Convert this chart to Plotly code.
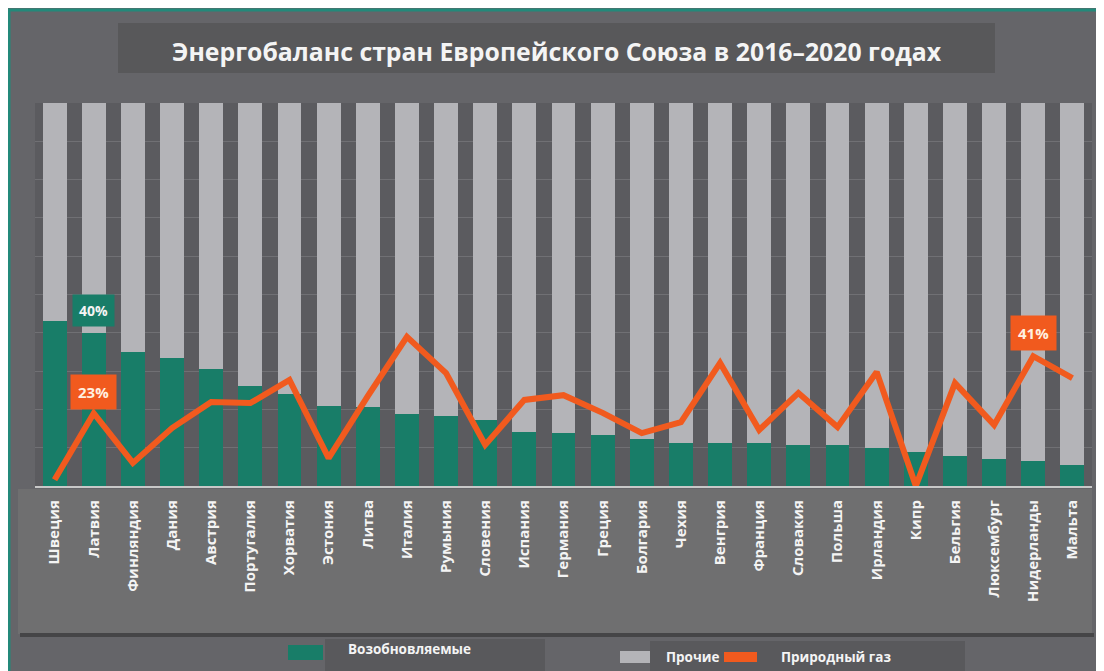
import plotly.graph_objects as go

countries = ["Швеция", "Латвия", "Финляндия", "Дания", "Австрия", "Португалия", "Хорватия",
             "Эстония", "Литва", "Италия", "Румыния", "Словения", "Испания", "Германия",
             "Греция", "Болгария", "Чехия", "Венгрия", "Франция", "Словакия", "Польша",
             "Ирландия", "Кипр", "Бельгия", "Люксембург", "Нидерланды", "Мальта"]
renewables = [43, 40, 35, 33.5, 30.5, 26, 24, 21, 20.5, 18.7, 18.3, 17.2, 14.2, 13.9,
              13.2, 12.4, 11.1, 11.1, 11.1, 10.7, 10.7, 10, 9, 7.9, 7.1, 6.4, 5.5]
others = [round(100 - v, 1) for v in renewables]
gas = [2, 23, 7.3, 18.3, 26.5, 26.2, 33.5, 8.8, 28.4, 47.1, 35.7, 13, 27.2, 28.7,
       23.1, 16.7, 20.2, 38.9, 17.7, 29.4, 18.6, 36, 0, 32.5, 19.3, 41, 34.1]
title = "Энергобаланс стран Европейского Союза в 2016–2020 годах"
series_names = ["Возобновляемые", "Прочие", "Природный газ"]

GREEN = "#187d68"
GRAY = "#b4b4b8"
ORANGE = "#f15a1e"
PANEL = "#656569"
PLOTBG = "#5b5b5f"
TEAL = "#23897a"
TXT = "#f4f4f4"

# the page places the figure 8px from the top-left corner of the window
OFF = 8
W, H = 1096, 663
L, R, T, B = 27, 12, 95, 185
PW = W - L - R
PH = H - T - B


def PX(sx):
    return (sx - OFF - L) / PW


def PY(sy):
    return (H - B - (sy - OFF)) / PH


fig = go.Figure()
fig.add_trace(go.Bar(x=countries, y=renewables, name=series_names[0],
                     marker=dict(color=GREEN, line=dict(width=0))))
fig.add_trace(go.Bar(x=countries, y=others, name=series_names[1],
                     marker=dict(color=GRAY, line=dict(width=0))))
fig.add_trace(go.Scatter(x=countries, y=gas, yaxis="y2", mode="lines", name=series_names[2],
                         line=dict(color=ORANGE, width=6)))

shapes = []


def rect(x0, y0, x1, y1, fill, line=None):
    shapes.append(dict(type="rect", xref="paper", yref="paper", layer="below",
                       x0=PX(x0), x1=PX(x1), y0=PY(y1), y1=PY(y0), fillcolor=fill,
                       line=line or dict(width=0)))


rect(9, 10, 1115, 690, PANEL, dict(color=TEAL, width=3))
rect(118, 23, 995, 73, "#58585a")
rect(35, 103, 1092, 486, PLOTBG)
rect(18, 489, 1092, 634, "#6f6f70")
rect(20, 633, 1094, 637, "#454547")
rect(325, 639, 545, 671, "#59595c")
rect(650, 641, 965, 671, "#59595c")
# legend swatches
rect(288, 645, 323, 660, GREEN)
rect(620, 651, 650, 663, GRAY)
rect(724, 652, 757, 662, ORANGE)

annotations = [
    dict(text=f"<b>{title}</b>", xref="paper", yref="paper", x=PX(557), y=PY(51),
         showarrow=False, font=dict(family="Open Sans", size=24.8, color=TXT),
         xanchor="center", yanchor="middle"),
    dict(text=f"<b>{series_names[0]}</b>", xref="paper", yref="paper", x=PX(346), y=PY(649),
         showarrow=False, font=dict(family="Open Sans", size=13.5, color=TXT),
         xanchor="left", yanchor="middle"),
    dict(text=f"<b>{series_names[1]}</b>", xref="paper", yref="paper", x=PX(664), y=PY(657),
         showarrow=False, font=dict(family="Open Sans", size=13.5, color=TXT),
         xanchor="left", yanchor="middle"),
    dict(text=f"<b>{series_names[2]}</b>", xref="paper", yref="paper", x=PX(779), y=PY(657),
         showarrow=False, font=dict(family="Open Sans", size=13.5, color=TXT),
         xanchor="left", yanchor="middle"),
    dict(text=f"<b>{renewables[1]:.0f}%</b>", x=countries[1], y=renewables[1], xref="x", yref="y",
         yshift=22, showarrow=False, bgcolor=GREEN, borderpad=6,
         font=dict(family="Open Sans", size=14, color=TXT)),
    dict(text=f"<b>{gas[1]:.0f}%</b>", x=countries[1], y=gas[1], xref="x", yref="y2",
         yshift=21, showarrow=False, bgcolor=ORANGE, borderpad=7,
         font=dict(family="Open Sans", size=15, color="#fff0e0")),
    dict(text=f"<b>{gas[25]:.0f}%</b>", x=countries[25], y=gas[25], xref="x", yref="y2",
         yshift=23, showarrow=False, bgcolor=ORANGE, borderpad=7,
         font=dict(family="Open Sans", size=15, color="#fff0e0")),
]

fig.update_layout(
    width=W, height=H,
    margin=dict(l=L, r=R, t=T, b=B, autoexpand=False),
    paper_bgcolor=PANEL,
    plot_bgcolor="rgba(0,0,0,0)",
    barmode="stack",
    bargap=0.39,
    showlegend=False,
    shapes=shapes,
    annotations=annotations,
    xaxis=dict(tickangle=-90, tickfont=dict(family="Open Sans", size=15, color=TXT, weight="bold"),
               showline=True, linecolor="#c8c8c8", linewidth=2, ticks="", ticklabelstandoff=6,
               showgrid=False, range=[-0.5, 26.5]),
    yaxis=dict(range=[0, 100], dtick=10, showgrid=True, gridcolor="#707074", gridwidth=1,
               showticklabels=False, zeroline=False, ticks=""),
    yaxis2=dict(range=[0, 121], overlaying="y", visible=False, showgrid=False),
)

fig.write_html("out.html")
